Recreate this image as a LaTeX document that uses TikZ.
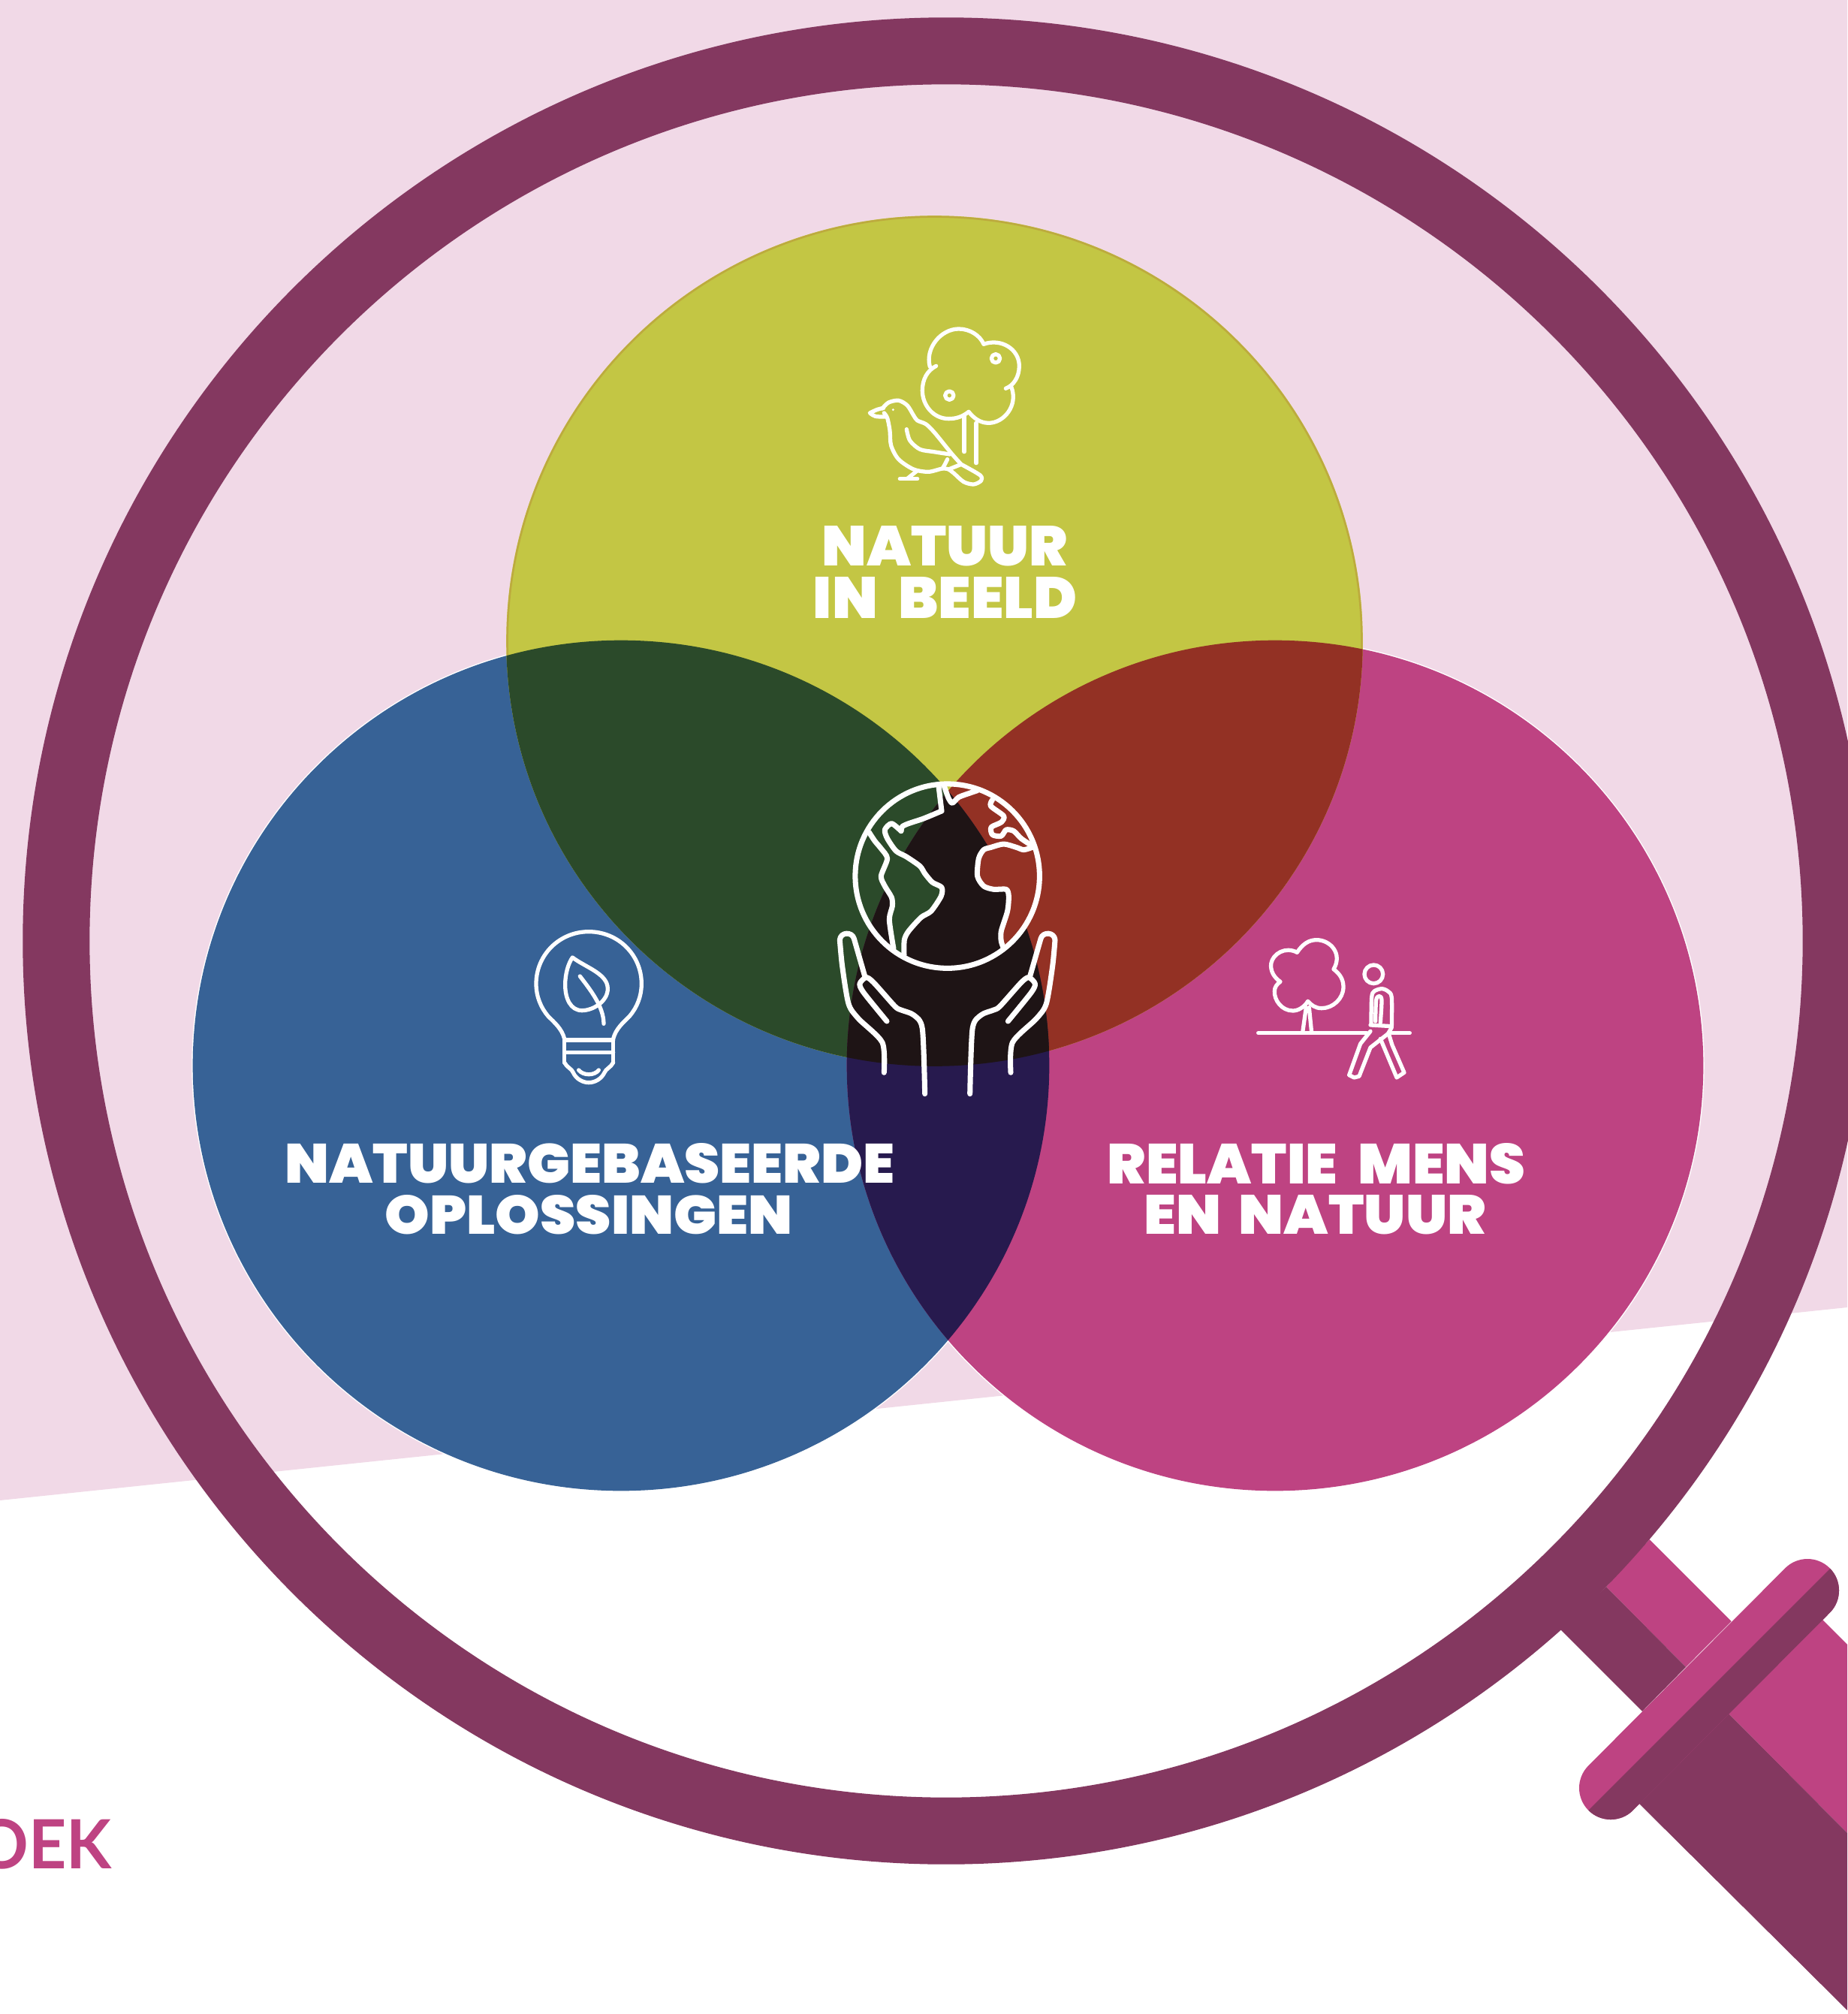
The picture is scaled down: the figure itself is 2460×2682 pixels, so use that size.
\documentclass[tikz,border=0pt]{standalone}
\usepackage{fontspec}
\newfontfamily\headfont[UprightFont=*-Black]{Poppins}
\newfontfamily\footfont{Lato}
\usetikzlibrary{calc}

\definecolor{bgpink}{HTML}{F1D9E7}
\definecolor{ringplum}{HTML}{843860}
\definecolor{natgreen}{HTML}{C3C644}
\definecolor{natrim}{HTML}{BDAA3E}
\definecolor{solblue}{HTML}{376296}
\definecolor{relpink}{HTML}{BE4382}
\definecolor{greenblue}{HTML}{2B4A2A}
\definecolor{greenpink}{HTML}{933124}
\definecolor{bluepink}{HTML}{271A4E}
\definecolor{allthree}{HTML}{1E1415}

\tikzset{
  iconline/.style={draw=white,line width=2pt,line cap=round,line join=round},
  thinicon/.style={draw=white,line width=1.5pt,line cap=round,line join=round},
  headlabel/.style={text=white,inner sep=0pt,font=\headfont},
  venn/.style={x radius=5.7cm,y radius=5.66cm},
}
\newcommand{\fitlabel}[3]{\resizebox{#1}{#2}{#3}}
\newcommand{\handicon}{%
  \draw[iconline] plot[smooth,tension=0.45] coordinates {(305,960) (262,810)}
    .. controls (255,782) and (208,782) .. (205,815)
    plot[smooth,tension=0.45] coordinates {(205,815) (215,920) (240,1070) (280,1130) (375,1225) (382,1345)};
  \draw[iconline] plot[smooth,tension=0.45] coordinates {(393,1140) (300,1025) (285,990) (310,965) (340,985) (425,1080) (450,1095) (500,1115) (535,1170) (545,1430)};
}

\begin{document}
\begin{tikzpicture}[x=0.01cm,y=-0.01cm]
\useasboundingbox (0,0) rectangle (2460,2682);
\coordinate (lens) at (1260,1253);
\coordinate (natcentre) at (1244.5,853.5);
\coordinate (solcentre) at (827,1419);
\coordinate (relcentre) at (1698,1419);
% Background band
\fill[bgpink] (0,0) -- (2460,0) -- (2460,1741) -- (0,1998) -- cycle;
% Three circles
\draw[white,line width=0.8pt] (solcentre) ellipse [venn];
\draw[white,line width=0.8pt] (relcentre) ellipse [venn];
\fill[solblue] (solcentre) ellipse [venn];
\fill[relpink] (relcentre) ellipse [venn];
\fill[natgreen] (natcentre) ellipse [venn];
\draw[natrim,line width=0.7pt] (natcentre) ellipse [x radius=5.685cm,y radius=5.645cm];
% Overlaps
\begin{scope}
  \clip (natcentre) ellipse [venn];
  \fill[greenblue] (solcentre) ellipse [venn];
  \fill[greenpink] (relcentre) ellipse [venn];
\end{scope}
\begin{scope}
  \clip (solcentre) ellipse [venn];
  \fill[bluepink] (relcentre) ellipse [venn];
  \clip (relcentre) ellipse [venn];
  \fill[allthree] (natcentre) ellipse [venn];
\end{scope}
% Handle
\fill[relpink] (2196.7,2050) -- (2305.7,2159) -- (2245,2220) -- (2139,2113) -- cycle;
\fill[ringplum] (2139,2113) -- (2245,2220) -- (2187,2279) -- (2078,2170) -- cycle;
\fill[relpink] (2426,2156) -- (2460,2190) -- (2460,2441) -- (2302,2282) -- cycle;
\fill[ringplum] (2302,2282) -- (2460,2441) -- (2460,2677) -- (2183,2402) -- cycle;
% Cross bar, halved along its length
\coordinate (barup) at (2407,2118);
\coordinate (bardown) at (2145,2381);
\draw[relpink,line width=84*0.2845pt,line cap=round] (barup) -- (bardown);
\begin{scope}
  \clip (2500,2026) -- (2500,2700) -- (2040,2700) -- (2040,2486) -- cycle;
  \draw[ringplum,line width=84*0.2845pt,line cap=round] (barup) -- (bardown);
\end{scope}
% Ring
\fill[ringplum,even odd rule] (lens) circle [radius=12.29cm] (lens) circle [radius=11.40cm];
% Labels
\node[headlabel] (natone) at (1258.5,727.5) {\fitlabel{3.27cm}{0.53cm}{NATUUR}};
\node[headlabel] (nattwo) at (1258.5,795.5) {\fitlabel{3.51cm}{0.55cm}{IN\hspace{0.35em}BEELD}};
\node[headlabel] (solone) at (785.5,1549.5) {\fitlabel{8.12cm}{0.53cm}{NATUURGEBASEERDE}};
\node[headlabel] (soltwo) at (784,1618) {\fitlabel{5.43cm}{0.52cm}{OPLOSSINGEN}};
\node[headlabel] (relone) at (1753,1550) {\fitlabel{5.56cm}{0.54cm}{RELATIE\hspace{0.35em}MENS}};
\node[headlabel] (reltwo) at (1751.5,1618) {\fitlabel{4.55cm}{0.52cm}{EN\hspace{0.3em}NATUUR}};
\node[text=relpink,inner sep=0pt,anchor=west,font=\footfont\bfseries] (footer) at (-33,2456) {\fitlabel{1.81cm}{0.66cm}{OEK}};
% Globe
\begin{scope}[shift={(1050,980)},scale=0.3333]
  % Land keeps the colour of the circles behind it
  \begin{scope}
    \clip (635,560) circle [radius=3.68cm];
    \fill[greenblue] plot[smooth,tension=0.45] coordinates {(430,460) (470,482) (525,520) (545,550) (575,585) (612,605) (610,640) (570,700) (530,725) (480,780) (463,815) (462,875)}
      -- plot[smooth,tension=0.45] coordinates {(420,850) (403,735) (415,680) (412,645) (385,600) (370,560) (395,490)} -- cycle;
    \fill[greenpink] plot[smooth,tension=0.45] coordinates {(810,445) (780,455) (760,490) (755,560) (780,600) (820,613) (870,613) (880,640) (875,700) (850,780) (850,820) (860,850)}
      -- (1100,850) -- (1100,445) -- cycle;
  \end{scope}
  \draw[iconline] (635,560) circle [radius=3.68cm];
  \draw[iconline] plot[smooth,tension=0.45] coordinates {(600,200) (612,300)};
  \draw[iconline] plot[smooth,tension=0.45] coordinates {(612,300) (540,330) (480,350) (455,362) (450,380)};
  \draw[iconline] plot[smooth,tension=0.45] coordinates {(450,380) (412,350) (385,375) (395,410) (430,460) (470,482) (525,520) (545,550) (575,585) (612,605) (610,640) (570,700) (530,725) (480,780) (463,815) (462,875)};
  \draw[iconline] plot[smooth,tension=0.45] coordinates {(322,385) (345,420) (370,450) (395,490) (370,560) (385,600) (412,645) (415,680) (403,735) (420,850)};
  \draw[iconline] plot[smooth,tension=0.45] coordinates {(622,200) (640,250) (655,268) (680,245) (720,230) (755,218)};
  \draw[iconline] plot[smooth,tension=0.45] coordinates {(815,255) (808,280) (860,320) (850,345) (810,365) (815,395) (850,400) (870,375) (900,380) (930,410) (975,440)};
  \draw[iconline] plot[smooth,tension=0.45] coordinates {(975,445) (940,455) (910,445) (860,432) (810,445) (780,455) (760,490) (755,560) (780,600) (820,613) (870,613) (880,640) (875,700) (850,780) (850,820) (860,850)};
\end{scope}
% Hands
\begin{scope}[shift={(1050,980)},scale=0.3333]
  \handicon
\end{scope}
\begin{scope}[shift={(1473.33,980)},xscale=-0.3333,yscale=0.3333]
  \handicon
\end{scope}
% Tree and bird
\begin{scope}[shift={(1100,400)},scale=0.3333]
  \draw[thinicon] (415,265) .. controls (395,190) and (460,114) .. (530,114) .. controls (575,114) and (615,140) .. (630,175) .. controls (700,150) and (772,195) .. (772,262) .. controls (772,305) and (750,340) .. (718,352);
  \draw[thinicon] (740,345) .. controls (770,420) and (710,490) .. (650,490) .. controls (615,490) and (590,470) .. (570,445) .. controls (545,465) and (520,473) .. (490,473) .. controls (430,473) and (385,420) .. (385,360) .. controls (385,315) and (405,280) .. (440,262);
  \draw[thinicon] (552,460) -- (552,605);
  \draw[thinicon] (600,490) -- (600,650);
  \draw[thinicon] (678,232) circle [radius=0.17cm];
  \draw[thinicon] (493,380) circle [radius=0.17cm];
  \draw[thinicon] plot[smooth,tension=0.5] coordinates {(225,432) (250,408) (290,400) (325,420) (350,460) (365,480) (400,495) (435,530) (500,610) (540,655)};
  \draw[thinicon] plot[smooth,tension=0.5] coordinates {(540,655) (615,698) (620,720) (590,735) (550,725) (510,690) (490,675)};
  \draw[thinicon] plot[smooth,tension=0.5] coordinates {(490,675) (465,672) (410,685) (350,675) (290,635) (260,580) (255,520) (245,470) (232,450)};
  \draw[thinicon] (230,430) .. controls (205,435) .. (175,450) .. controls (195,465) .. (235,465);
  \fill[white] (268,437) circle [radius=0.05cm];
  \draw[thinicon] plot[smooth,tension=0.5] coordinates {(322,515) (335,560) (375,595) (430,605) (495,615)};
  \draw[thinicon] plot[smooth,tension=0.5] coordinates {(485,635) (475,655) (465,672)};
  \draw[thinicon] (490,675) -- (540,655);
  \draw[thinicon] (365,680) -- (325,712);
  \draw[thinicon] (295,713) -- (365,713);
\end{scope}
% Bulb
\begin{scope}[shift={(680,1200)},scale=0.3333]
  \draw[thinicon] (215,550) .. controls (205,510) and (175,485) .. (150,460) .. controls (120,425) and (102,380) .. (102,330) .. controls (102,215) and (195,122) .. (312,122) .. controls (430,122) and (523,215) .. (523,330) .. controls (523,380) and (505,425) .. (475,460) .. controls (450,485) and (420,510) .. (410,550);
  \draw[thinicon] (215,555) -- (410,555) (215,605) -- (410,605) (215,555) -- (215,645) (410,555) -- (410,645);
  \draw[thinicon] (215,645) .. controls (225,665) and (245,670) .. (250,685) .. controls (262,712) and (290,725) .. (312,725) .. controls (335,725) and (362,712) .. (375,685) .. controls (380,670) and (400,665) .. (410,645);
  \draw[thinicon] (272,675) .. controls (290,698) and (335,698) .. (352,675);
  \draw[thinicon] (247,225) .. controls (300,265) and (388,290) .. (388,350) .. controls (388,400) and (330,437) .. (285,437) .. controls (240,437) and (218,390) .. (218,335) .. controls (218,290) and (230,250) .. (247,225) -- cycle;
  \draw[thinicon] (277,300) .. controls (315,350) and (372,420) .. (372,490);
\end{scope}
% Tree and walker
\begin{scope}[shift={(1640,1220)},scale=0.3333]
  \draw[thinicon] (262,145) .. controls (285,110) and (310,95) .. (340,95) .. controls (395,95) and (445,150) .. (408,212) .. controls (435,232) and (447,255) .. (447,283) .. controls (447,330) and (405,368) .. (360,368) .. controls (335,368) and (318,355) .. (305,340) .. controls (290,365) and (265,378) .. (245,378) .. controls (200,378) and (170,335) .. (172,300) .. controls (172,285) and (180,272) .. (195,262) .. controls (170,245) and (155,220) .. (158,190) .. controls (165,150) and (215,120) .. (262,145) -- cycle;
  \draw[thinicon] (298,365) -- (284,465) (310,365) -- (320,465);
  \draw[thinicon] (107,467) -- (540,467) (640,467) -- (712,467);
  \draw[thinicon] (568,232) circle [radius=0.37cm];
  \draw[thinicon] plot[smooth,tension=0.5] coordinates {(558,430) (560,325) (570,300) (600,290) (625,300) (640,325) (640,440)};
  \draw[thinicon] plot[smooth,tension=0.5] coordinates {(575,420) (578,335) (590,320) (600,335) (595,425)};
  \draw[thinicon] (555,435) -- (640,440);
  \draw[thinicon] (555,460) -- (515,510) -- (470,635) -- (490,645) -- (510,640) -- (555,525) -- (625,470) -- (640,445);
  \draw[thinicon] (595,490) -- (660,645) -- (690,625) -- (642,515) -- (628,470);
\end{scope}
\end{tikzpicture}
\end{document}
